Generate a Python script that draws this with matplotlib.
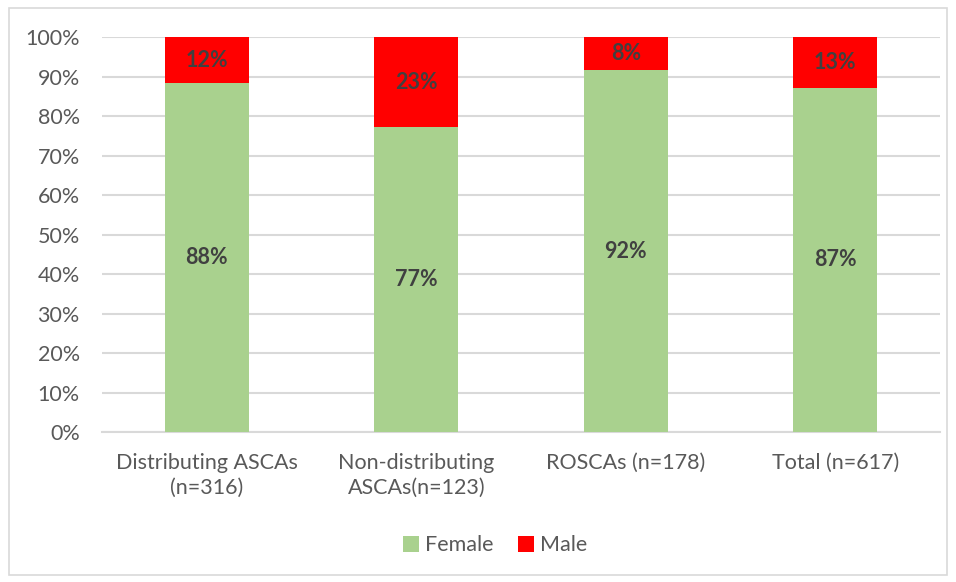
import numpy as np
import matplotlib.pyplot as plt
from matplotlib.patches import Rectangle

# Dati
categorie = ['Distributing ASCAs\n(n=316)', 'Non-distributing\nASCAs(n=123)',
             'ROSCAs (n=178)', 'Total (n=617)']
female = [88.3, 77.2, 91.6, 87.1]
male = [11.7, 22.8, 8.4, 12.9]
yticks = [0, 10, 20, 30, 40, 50, 60, 70, 80, 90, 100]

plt.rcParams['font.family'] = ['Lato', 'DejaVu Sans']
fs = 15.5

fig = plt.figure(figsize=(9.56, 5.82), dpi=100)
ax = fig.add_axes([0.1067, 0.2577, 0.8766, 0.6787])

x = np.arange(len(categorie))
w = 0.4
b1 = ax.bar(x, female, w, color='#A9D18E', label='Female', zorder=3)
b2 = ax.bar(x, male, w, bottom=female, color='#FF0000', label='Male', zorder=3)

# etichette dei valori
for i in range(len(x)):
    ax.text(x[i], female[i] / 2, f"{female[i]:.0f}%", ha='center', va='center',
            fontsize=fs, fontweight='bold', color='#404040', zorder=4)
    ax.text(x[i], female[i] + male[i] / 2, f"{male[i]:.0f}%", ha='center', va='center',
            fontsize=fs, fontweight='bold', color='#404040', zorder=4)

ax.set_xlim(-0.5, len(x) - 0.5)
ax.set_ylim(0, 100)
ax.set_yticks(yticks)
ax.set_yticklabels([f"{t}%" for t in yticks])
ax.set_xticks(x)
ax.set_xticklabels(categorie, linespacing=1.3)
ax.tick_params(axis='both', length=0, labelsize=fs, labelcolor='#595959')
ax.tick_params(axis='y', pad=16)
ax.tick_params(axis='x', pad=15)
ax.grid(axis='y', color='#D9D9D9', linewidth=1.5, zorder=0)
for s in ['top', 'right', 'left']:
    ax.spines[s].set_visible(False)
ax.spines['bottom'].set_color('#D9D9D9')
ax.spines['bottom'].set_linewidth(1.5)

leg = fig.legend(handles=[b1, b2], loc='center', bbox_to_anchor=(0.518, 0.063), ncol=2,
                 frameon=False, fontsize=fs, handlelength=0.75, handleheight=0.75,
                 handletextpad=0.3, columnspacing=1.1)
for t in leg.get_texts():
    t.set_color('#595959')

# bordo della figura
fig.patches.append(Rectangle((9 / 956, 7 / 582), 938 / 956, 567 / 582, transform=fig.transFigure,
                             fill=False, edgecolor='#D9D9D9', linewidth=1.2))

fig.savefig('out.png', dpi=100)
